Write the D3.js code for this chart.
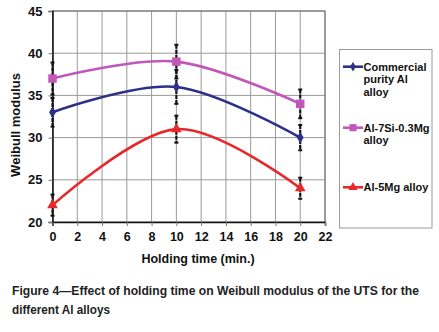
<!DOCTYPE html>
<html><head><meta charset="utf-8">
<script src="https://cdn.jsdelivr.net/npm/d3@7"></script>
<style>body{margin:0;background:#fff;}svg{display:block;font-family:Arial,"Liberation Sans",sans-serif;}</style>
</head><body>
<script>
const times = [0, 10, 20];
const seriesNames = ["Commercial purity Al alloy", "Al-7Si-0.3Mg alloy", "Al-5Mg alloy"];
const commercial = [33, 36, 30];
const commercialErr = [1.7, 2, 1.5];
const al7si = [37, 39, 34];
const al7siErr = [1.9, 2, 1.7];
const al5mg = [22, 31, 24];
const al5mgErr = [1.25, 1.6, 1.25];
const xTicks = [0, 2, 4, 6, 8, 10, 12, 14, 16, 18, 20, 22];
const yTicks = [20, 25, 30, 35, 40, 45];
const legendLines = [["Commercial", "purity Al", "alloy"], ["Al-7Si-0.3Mg", "alloy"], ["Al-5Mg alloy"]];

const W = 439, H = 332;
const svg = d3.select("body").append("svg").attr("width", W).attr("height", H);
const x = d3.scaleLinear().domain([0, 22]).range([52.5, 325]);
const y = d3.scaleLinear().domain([20, 45]).range([222, 11]);

// grid
svg.append("g").selectAll("line.v").data(xTicks.slice(1)).join("line")
  .attr("x1", d => x(d)).attr("x2", d => x(d)).attr("y1", y(45)).attr("y2", y(20))
  .attr("stroke", "#9a9a9a").attr("stroke-width", 1);
svg.append("g").selectAll("line.h").data(yTicks.slice(1)).join("line")
  .attr("x1", x(0)).attr("x2", x(22)).attr("y1", d => y(d)).attr("y2", d => y(d))
  .attr("stroke", "#9a9a9a").attr("stroke-width", 1);
// frame
svg.append("rect").attr("x", x(0)).attr("y", y(45)).attr("width", x(22) - x(0)).attr("height", y(20) - y(45))
  .attr("fill", "none").attr("stroke", "#6a6a6a").attr("stroke-width", 1);

// axes
const yAxis = svg.append("g").attr("transform", `translate(${x(0)},0)`)
  .call(d3.axisLeft(y).tickValues(yTicks).tickSize(4).tickPadding(6));
yAxis.select(".domain").attr("stroke", "#111").attr("stroke-width", 1.5);
yAxis.selectAll(".tick line").attr("stroke", "#777");
yAxis.selectAll("text").attr("font-size", 13).attr("font-weight", "bold").attr("fill", "#111")
  .attr("font-family", "Arial, 'Liberation Sans', sans-serif");

const xAxis = svg.append("g").attr("transform", `translate(0,${y(20)})`)
  .call(d3.axisBottom(x).tickValues(xTicks).tickSize(4).tickPadding(6));
xAxis.select(".domain").attr("stroke", "#111").attr("stroke-width", 1.5);
xAxis.selectAll(".tick line").attr("stroke", "#777");
xAxis.selectAll("text").attr("font-size", 12.5).attr("font-weight", "bold").attr("fill", "#111")
  .attr("font-family", "Arial, 'Liberation Sans', sans-serif");

// axis titles
svg.append("text").attr("x", 198).attr("y", 262.5).attr("text-anchor", "middle")
  .attr("font-size", 12.5).attr("font-weight", "bold").attr("fill", "#111").text("Holding time (min.)");
svg.append("text").attr("transform", "translate(19.5,125) rotate(-90)").attr("text-anchor", "middle")
  .attr("font-size", 13).attr("font-weight", "bold").attr("fill", "#111").text("Weibull modulus");

const series = [
  {name: seriesNames[0], vals: commercial, err: commercialErr, color: "#2e3085", sym: d3.symbolDiamond, size: 40},
  {name: seriesNames[1], vals: al7si, err: al7siErr, color: "#c157b8", sym: d3.symbolSquare, size: 72},
  {name: seriesNames[2], vals: al5mg, err: al5mgErr, color: "#e8272a", sym: d3.symbolTriangle, size: 50},
];

const line = d3.line().x(d => x(d[0])).y(d => y(d[1])).curve(d3.curveCardinal.tension(0));

// lines
series.forEach(s => {
  svg.append("path").datum(times.map((t, i) => [t, s.vals[i]]))
    .attr("d", line).attr("fill", "none").attr("stroke", s.color).attr("stroke-width", 2.6);
});
// error bars
series.forEach(s => {
  const g = svg.append("g");
  times.forEach((t, i) => {
    const x0 = x(t), y1 = y(s.vals[i] + s.err[i]), y2 = y(s.vals[i] - s.err[i]);
    g.append("line").attr("x1", x0).attr("x2", x0).attr("y1", y1).attr("y2", y2)
      .attr("stroke", "#111").attr("stroke-width", 2.2).attr("stroke-dasharray", "4,1");
    [y1, y2].forEach(yy => g.append("line").attr("x1", x0 - 2).attr("x2", x0 + 2).attr("y1", yy).attr("y2", yy)
      .attr("stroke", "#111").attr("stroke-width", 2));
  });
});
// markers
series.forEach(s => {
  svg.append("g").selectAll("path").data(times.map((t, i) => [t, s.vals[i]])).join("path")
    .attr("transform", d => `translate(${x(d[0])},${y(d[1])})`)
    .attr("d", d3.symbol().type(s.sym).size(s.size)).attr("fill", s.color);
});

// legend
svg.append("rect").attr("x", 339.5).attr("y", 49.5).attr("width", 92.5).attr("height", 178.5)
  .attr("fill", "#fff").attr("stroke", "#9a9a9a").attr("stroke-width", 1);
const legY = [66.7, 127.7, 187.3];
series.forEach((s, i) => {
  const ly = legY[i];
  svg.append("line").attr("x1", 343).attr("x2", 363).attr("y1", ly).attr("y2", ly)
    .attr("stroke", s.color).attr("stroke-width", 2.6);
  svg.append("path").attr("transform", `translate(353,${ly})`)
    .attr("d", d3.symbol().type(s.sym).size(s.size * 0.7)).attr("fill", s.color);
  legendLines[i].forEach((txt, j) => {
    svg.append("text").attr("x", 363.5).attr("y", ly + j * 12.5 + 4).attr("font-size", 11)
      .attr("font-weight", "bold").attr("fill", "#111").text(txt);
  });
});

// caption
svg.append("text").attr("x", 12).attr("y", 295).attr("font-size", 12.5).attr("font-weight", "bold")
  .attr("fill", "#222").attr("textLength", 407).attr("lengthAdjust", "spacingAndGlyphs")
  .text("Figure 4\u2014Effect of holding time on Weibull modulus of the UTS for the");
svg.append("text").attr("x", 12).attr("y", 313.5).attr("font-size", 12.5).attr("font-weight", "bold")
  .attr("fill", "#222").attr("textLength", 98).attr("lengthAdjust", "spacingAndGlyphs")
  .text("different Al alloys");
</script>
</body></html>
